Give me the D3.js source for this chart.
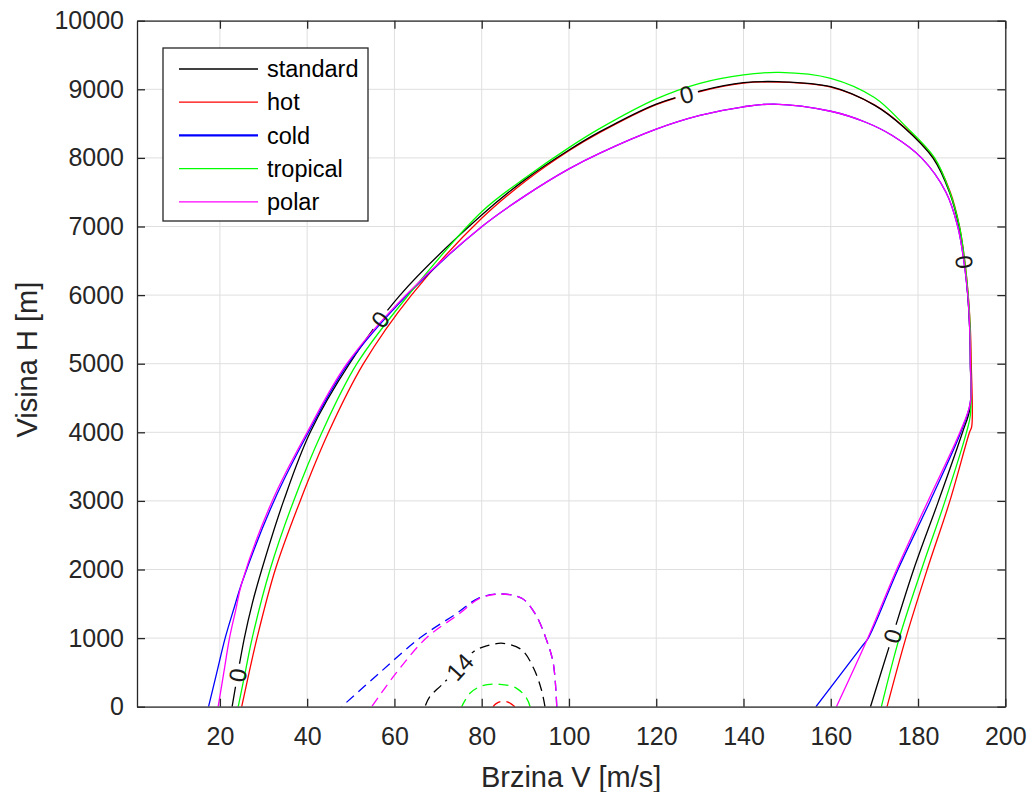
<!DOCTYPE html>
<html>
<head>
<meta charset="utf-8">
<script src="https://cdn.jsdelivr.net/npm/d3@7"></script>
<style>
  body { margin: 0; background: #ffffff; }
  text { font-family: "Liberation Sans", Arial, Helvetica, sans-serif; }
</style>
</head>
<body>
<svg id="chart" width="1027" height="792"></svg>
<script>
// ---- Flight envelope contours: points are [V (m/s), H (m)] ----
const seriesNames  = ["standard", "hot", "cold", "tropical", "polar"];
const seriesColors = ["#000000", "#ff0000", "#0000ff", "#00ff00", "#ff00ff"];

// outer contour (level 0) for each atmosphere
const standardEnvelope = [[22.8,0],[25.6,1000],[27.4,1500],[29.6,2000],[34.6,3000],[40.7,4000],[49.7,5000],[61.3,6000],[80,7167],[90,7687],[100,8115],[107.1,8382],[120,8785],[130,8975],[140,9096],[148,9111],[160,9038],[170,8770],[176.6,8455],[183.4,8000],[187.2,7500],[189.4,7000],[190.6,6500],[191.4,6000],[191.85,5500],[192,5000],[191.9,4350],[190.2,4000],[184.7,3000],[179,2000],[174,1000],[169.1,0]];
const hotEnvelope = [[25,0],[26.7,500],[28.5,1000],[32.7,2000],[38.4,3000],[44.9,4000],[52.9,5000],[63.9,6000],[80,7119],[90,7660],[100,8105],[107.1,8372],[120,8778],[130,8968],[140,9090],[148,9105],[160,9032],[170,8772],[176.8,8450],[183.6,8000],[187.4,7500],[189.5,7000],[190.7,6500],[191.5,6000],[192,5500],[192.2,5000],[192.3,4082],[191.8,4000],[187.3,3000],[182.1,2000],[177.2,1000],[172.9,0]];
const coldEnvelope = [[17.4,0],[19.3,500],[21.2,1000],[23.3,1450],[25.0,1800],[32.4,3000],[40.3,4000],[49.4,5000],[62.9,6000],[80,6997],[90,7450],[100,7840],[107.1,8070],[120,8420],[130,8620],[140,8745],[147,8785],[160,8680],[168,8520],[174,8330],[180.8,8000],[186.4,7500],[189.1,7000],[190.5,6500],[191.4,6000],[191.85,5500],[192,5000],[191.95,4422],[189.8,4000],[182.8,3000],[175.4,2000],[168.6,1000],[167.1,875],[156.6,0]];
const tropicalEnvelope = [[24.2,0],[25.8,500],[27.4,1000],[31.5,2000],[36.9,3000],[43.4,4000],[51.4,5000],[63.2,6000],[80,7216],[90,7710],[100,8150],[107.1,8430],[120,8860],[130,9087],[140,9210],[148.3,9247],[160,9160],[170,8880],[177,8470],[183.8,8000],[187.3,7500],[189.5,7000],[190.7,6500],[191.5,6000],[191.95,5500],[192.05,5000],[192,4252],[191.1,4000],[186.2,3000],[180.8,2000],[175.7,1000],[171.6,0]];
const polarEnvelope = [[19.6,0],[20.9,500],[22.2,1000],[23.6,1400],[25.0,1800],[32.0,3000],[40.0,4000],[49.1,5000],[62.6,6000],[80,6997],[90,7450],[100,7840],[107.1,8070],[120,8420],[130,8620],[140,8745],[147,8785],[160,8680],[168,8520],[174,8330],[180.8,8000],[186.4,7500],[189.1,7000],[190.5,6500],[191.4,6000],[191.85,5500],[192,5000],[191.95,4422],[189.6,4000],[182.3,3000],[175.1,2000],[168.5,1000],[161.3,0]];

// inner contour (level 14) for each atmosphere
const standardInner = [[94.5,0],[93.7,243],[91.9,560],[89.2,827],[84.9,924],[81.1,885],[78.1,802],[75,583],[70.8,316],[68.1,146],[67,0]];
const hotInner      = [[87.6,0],[87.1,25],[86,68],[84.5,78],[83.3,45],[82.6,0]];
const coldInner     = [[97.2,0],[96.4,632],[94.7,1000],[92.2,1361],[89.2,1580],[84.2,1643],[79.2,1580],[74.3,1361],[65.8,1000],[56.7,500],[47.9,0]];
const tropicalInner = [[91.1,0],[90.3,122],[88,268],[84.2,326],[80,302],[77.3,195],[75.4,0]];
const polarInner    = [[97.2,0],[96.4,632],[94.7,1000],[92.2,1361],[89.2,1580],[84.2,1643],[79.4,1575],[75,1361],[67.3,1000],[60.5,500],[54.8,0]];

// contour labels on the standard atmosphere lines
const contourLabels = [
  { text: "0",  contour: "outer", at: [24.3, 460],   cuts: ["standard"] },
  { text: "0",  contour: "outer", at: [56.9, 5635],  cuts: ["standard"] },
  { text: "0",  contour: "outer", at: [127, 8920],   cuts: ["standard", "hot"] },
  { text: "0",  contour: "outer", at: [190.5, 6480], cuts: ["standard"] },
  { text: "0",  contour: "outer", at: [174.1, 1030], cuts: ["standard"] },
  { text: "14", contour: "inner", at: [75, 583],     cuts: ["standard"] }
];

const xTicks = d3.range(20, 201, 20);
const yTicks = d3.range(0, 10001, 1000);
const xLabel = "Brzina V [m/s]";
const yLabel = "Visina H [m]";

const envelopes = [standardEnvelope, hotEnvelope, coldEnvelope, tropicalEnvelope, polarEnvelope];
const inners = [standardInner, hotInner, coldInner, tropicalInner, polarInner];

// ---- layout ----
const W = 1027, H = 792;
const box = { left: 137, right: 1005.3, top: 20.7, bottom: 706.7 };
const axisColor = "#262626";
const fontStack = "\"Liberation Sans\", Arial, Helvetica, sans-serif";

const svg = d3.select("#chart");
svg.append("rect").attr("width", W).attr("height", H).attr("fill", "#ffffff");

const x = d3.scaleLinear().domain([1, 200]).range([box.left, box.right]);
const y = d3.scaleLinear().domain([0, 10000]).range([box.bottom, box.top]);

const defs = svg.append("defs");
defs.append("clipPath").attr("id", "plotClip")
  .append("rect")
  .attr("x", box.left).attr("y", box.top)
  .attr("width", box.right - box.left).attr("height", box.bottom - box.top);

// masks that open gaps in the lines behind the contour labels
const masks = {};
["standard", "hot"].forEach(name => {
  const m = defs.append("mask").attr("id", "gaps-" + name)
    .attr("maskUnits", "userSpaceOnUse")
    .attr("x", 0).attr("y", 0).attr("width", W).attr("height", H);
  m.append("rect").attr("width", W).attr("height", H).attr("fill", "white");
  masks[name] = m;
});

// ---- grid ----
const grid = svg.append("g").attr("stroke", "#dfdfdf").attr("stroke-width", 1);
grid.selectAll("line.vx").data(xTicks).join("line")
  .attr("x1", d => x(d)).attr("x2", d => x(d))
  .attr("y1", box.top).attr("y2", box.bottom);
grid.selectAll("line.hy").data(yTicks).join("line")
  .attr("x1", box.left).attr("x2", box.right)
  .attr("y1", d => y(d)).attr("y2", d => y(d));

// ---- contour lines ----
const line = d3.line()
  .x(d => x(d[0])).y(d => y(d[1]))
  .curve(d3.curveCatmullRom.alpha(0.5));

const drawOrder = [1, 0, 2, 3, 4]; // hot first so the standard line sits above it
const plotArea = svg.append("g").attr("clip-path", "url(#plotClip)");
const pathNodes = {};
drawOrder.forEach(i => {
  const name = seriesNames[i];
  const g = plotArea.append("g").attr("class", "series-" + name);
  if (masks[name]) g.attr("mask", "url(#gaps-" + name + ")");
  const outer = g.append("path")
    .attr("d", line(envelopes[i]))
    .attr("fill", "none").attr("stroke", seriesColors[i])
    .attr("stroke-width", 1.3).attr("stroke-linejoin", "round");
  const inner = g.append("path")
    .attr("d", line(inners[i]))
    .attr("fill", "none").attr("stroke", seriesColors[i])
    .attr("stroke-width", 1.3).attr("stroke-dasharray", "10,6");
  pathNodes[name] = { outer: outer.node(), inner: inner.node() };
});

// ---- contour labels, oriented along the standard line ----
const labelLayer = svg.append("g");
contourLabels.forEach(lab => {
  const node = pathNodes.standard[lab.contour];
  const total = node.getTotalLength();
  const px = x(lab.at[0]), py = y(lab.at[1]);
  let best = 0, bestD = Infinity;
  for (let l = 0; l <= total; l += 0.5) {
    const p = node.getPointAtLength(l);
    const dd = (p.x - px) ** 2 + (p.y - py) ** 2;
    if (dd < bestD) { bestD = dd; best = l; }
  }
  const c = node.getPointAtLength(best);
  const a = node.getPointAtLength(Math.max(0, best - 6));
  const b = node.getPointAtLength(Math.min(total, best + 6));
  let ang = Math.atan2(b.y - a.y, b.x - a.x) * 180 / Math.PI;
  if (ang > 90) ang -= 180;
  if (ang < -90) ang += 180;

  const t = labelLayer.append("text")
    .attr("transform", `translate(${c.x},${c.y}) rotate(${ang})`)
    .attr("text-anchor", "middle").attr("dy", "0.36em")
    .attr("font-size", 24).attr("fill", "#1a1a1a")
    .text(lab.text);
  const w = t.node().getBBox().width + 10;
  lab.cuts.forEach(name => {
    masks[name].append("rect")
      .attr("x", -w / 2).attr("y", -10).attr("width", w).attr("height", 20)
      .attr("transform", `translate(${c.x},${c.y}) rotate(${ang})`)
      .attr("fill", "black");
  });
});

// ---- axes (ticks point inward on all four sides) ----
function styleAxis(g) {
  g.selectAll("path.domain").attr("stroke", axisColor).attr("stroke-width", 1.3);
  g.selectAll(".tick line").attr("stroke", axisColor).attr("stroke-width", 1.3);
  g.selectAll("text").attr("fill", axisColor).attr("font-size", 25)
    .attr("font-family", fontStack);
}
svg.append("g").attr("transform", `translate(0,${box.bottom})`)
  .call(d3.axisBottom(x).tickValues(xTicks).tickSizeInner(-8).tickSizeOuter(0).tickPadding(21))
  .call(styleAxis);
svg.append("g").attr("transform", `translate(0,${box.top})`)
  .call(d3.axisTop(x).tickValues(xTicks).tickSizeInner(-8).tickSizeOuter(0).tickFormat(""))
  .call(styleAxis);
svg.append("g").attr("transform", `translate(${box.left},0)`)
  .call(d3.axisLeft(y).tickValues(yTicks).tickSizeInner(-8).tickSizeOuter(0).tickPadding(13).tickFormat(d3.format("d")))
  .call(styleAxis);
svg.append("g").attr("transform", `translate(${box.right},0)`)
  .call(d3.axisRight(y).tickValues(yTicks).tickSizeInner(-8).tickSizeOuter(0).tickFormat(""))
  .call(styleAxis);

// axis titles
svg.append("text")
  .attr("x", (box.left + box.right) / 2).attr("y", 787)
  .attr("text-anchor", "middle").attr("font-size", 29).attr("fill", axisColor)
  .text(xLabel);
svg.append("text")
  .attr("transform", `translate(37,${(box.top + box.bottom) / 2 - 4}) rotate(-90)`)
  .attr("text-anchor", "middle").attr("font-size", 29).attr("fill", axisColor)
  .text(yLabel);

// ---- legend ----
const legend = svg.append("g");
legend.append("rect")
  .attr("x", 163).attr("y", 48).attr("width", 205).attr("height", 173)
  .attr("fill", "#ffffff").attr("stroke", axisColor).attr("stroke-width", 1.3);
seriesNames.forEach((name, i) => {
  const cy = 69 + i * 33.2;
  legend.append("line")
    .attr("x1", 179).attr("x2", 258).attr("y1", cy).attr("y2", cy)
    .attr("stroke", seriesColors[i]).attr("stroke-width", name === "cold" ? 2.2 : 1.3);
  legend.append("text")
    .attr("x", 267).attr("y", cy).attr("dy", "0.35em")
    .attr("font-size", 23.5).attr("fill", "#000000")
    .text(name);
});
</script>
</body>
</html>
